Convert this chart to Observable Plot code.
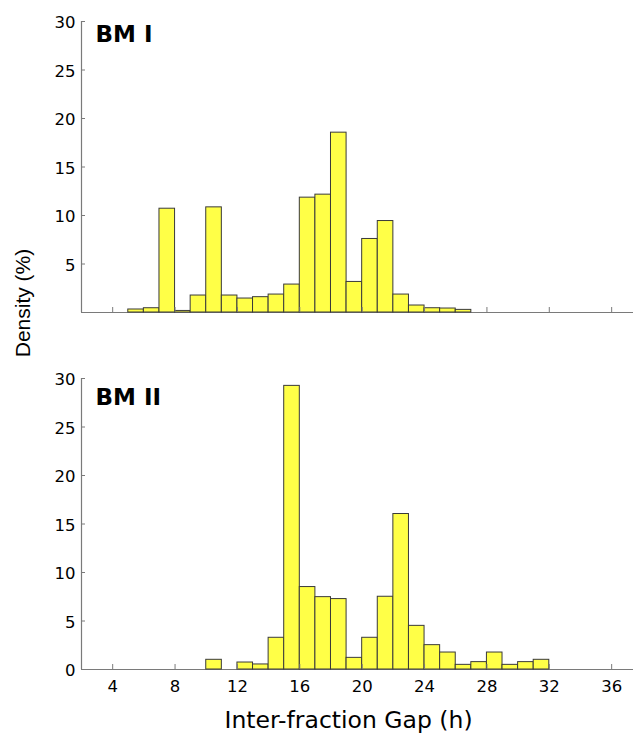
<!DOCTYPE html>
<html>
<head>
<meta charset="utf-8">
<script src="https://cdn.jsdelivr.net/npm/d3@7"></script>
<script src="https://cdn.jsdelivr.net/npm/@observablehq/plot@0.6"></script>
<style>
  body { margin: 0; background: #fff; }
  #wrap { position: relative; width: 633px; height: 735px; font-family: "DejaVu Sans", sans-serif; background: #fff; }
  #wrap svg { position: absolute; left: 0; }
  #ylab { position: absolute; left: 22px; top: 303px; transform: translate(-50%, -50%) rotate(-90deg);
          font-family: "Liberation Sans", Arial, sans-serif;
          font-size: 21px; line-height: 21px; white-space: nowrap; color: #000; }
</style>
</head>
<body>
<div id="wrap"></div>
<script>
// ---- data ----
const binWidth = 1;
const panelTitles = ["BM I", "BM II"];
const bmIBinStart = [5, 6, 7, 8, 9, 10, 11, 12, 13, 14, 15, 16, 17, 18, 19, 20, 21, 22, 23, 24, 25, 26];
const bmIDensity  = [0.31, 0.44, 10.7, 0.16, 1.75, 10.84, 1.75, 1.44, 1.58, 1.85, 2.88, 11.84, 12.15, 18.54, 3.15, 7.58, 9.43, 1.85, 0.72, 0.44, 0.41, 0.27];
const bmIIBinStart = [10, 11, 12, 13, 14, 15, 16, 17, 18, 19, 20, 21, 22, 23, 24, 25, 26, 27, 28, 29, 30, 31];
const bmIIDensity  = [1.0, 0, 0.72, 0.52, 3.27, 29.24, 8.5, 7.46, 7.26, 1.2, 3.27, 7.5, 16.03, 4.5, 2.51, 1.75, 0.48, 0.76, 1.75, 0.48, 0.76, 1.0];
const xTicks = [4, 8, 12, 16, 20, 24, 28, 32, 36];
const yTicksTop = [5, 10, 15, 20, 25, 30];
const yTicksBottom = [0, 5, 10, 15, 20, 25, 30];
const xLabel = "Inter-fraction Gap (h)";
const yLabel = "Density (%)";

// ---- style ----
const FILL = "#ffff47";
const EDGE = "#3a3a3a";
const AXIS = "#7a7a7a";
const FONT = "'DejaVu Sans', sans-serif";
const xDomain = [2, 37.4];
const yDomain = [0, 30];

function rows(starts, vals) {
  return starts.map((s, i) => ({x1: s, x2: s + binWidth, d: vals[i]})).filter(r => r.d > 0);
}

function panel({data, title, yTicks, bottom, top, height, marginTop, marginBottom, titleDy}) {
  const marks = [
    Plot.ruleY([0], {stroke: AXIS, strokeWidth: 1.2}),
    Plot.ruleX([xDomain[0]], {stroke: AXIS, strokeWidth: 1.2}),
    Plot.rect(data, {x1: "x1", x2: "x2", y1: 0, y2: "d", fill: FILL, stroke: EDGE, strokeWidth: 1}),
    Plot.axisY(yTicks, {tickSize: 4, dx: 4, tickFormat: () => "", label: null, stroke: AXIS}),
    Plot.axisY(yTicks, {tickSize: 0, tickPadding: 6, dy: 1.5, label: null, fontSize: 16.5, fill: "#000"}),
    Plot.axisX(xTicks, {tickSize: 5, dy: -5, tickFormat: () => "", label: null, stroke: AXIS}),
    Plot.text([title], {text: d => d, frameAnchor: "top-left", lineAnchor: "top", textAnchor: "start",
      dx: 14, dy: titleDy, fontSize: 23, fontWeight: "bold", fill: "#000"})
  ];
  if (bottom) {
    marks.push(Plot.axisX(xTicks, {tickSize: 0, tickPadding: 11, label: null, fontSize: 16.5, fill: "#000"}));
    marks.push(Plot.text([xLabel], {text: d => d, frameAnchor: "bottom", lineAnchor: "top", dx: -9, dy: 42, fontSize: 23.5, fill: "#000"}));
  }
  const svg = Plot.plot({
    width: 633, height, marginLeft: 81, marginRight: 0, marginTop, marginBottom,
    x: {domain: xDomain},
    y: {domain: yDomain},
    style: {fontFamily: FONT, background: "transparent", overflow: "visible"},
    marks
  });
  svg.style.top = top + "px";
  svg.style.position = "absolute";
  return svg;
}

const wrap = document.getElementById("wrap");
wrap.appendChild(panel({data: rows(bmIBinStart, bmIDensity), title: panelTitles[0], yTicks: yTicksTop,
  bottom: false, top: 0, height: 330, marginTop: 21, marginBottom: 18, titleDy: 4}));
wrap.appendChild(panel({data: rows(bmIIBinStart, bmIIDensity), title: panelTitles[1], yTicks: yTicksBottom,
  bottom: true, top: 330, height: 405, marginTop: 48, marginBottom: 66, titleDy: 10}));
const yl = document.createElement("div");
yl.id = "ylab";
yl.textContent = yLabel;
wrap.appendChild(yl);
</script>
</body>
</html>
